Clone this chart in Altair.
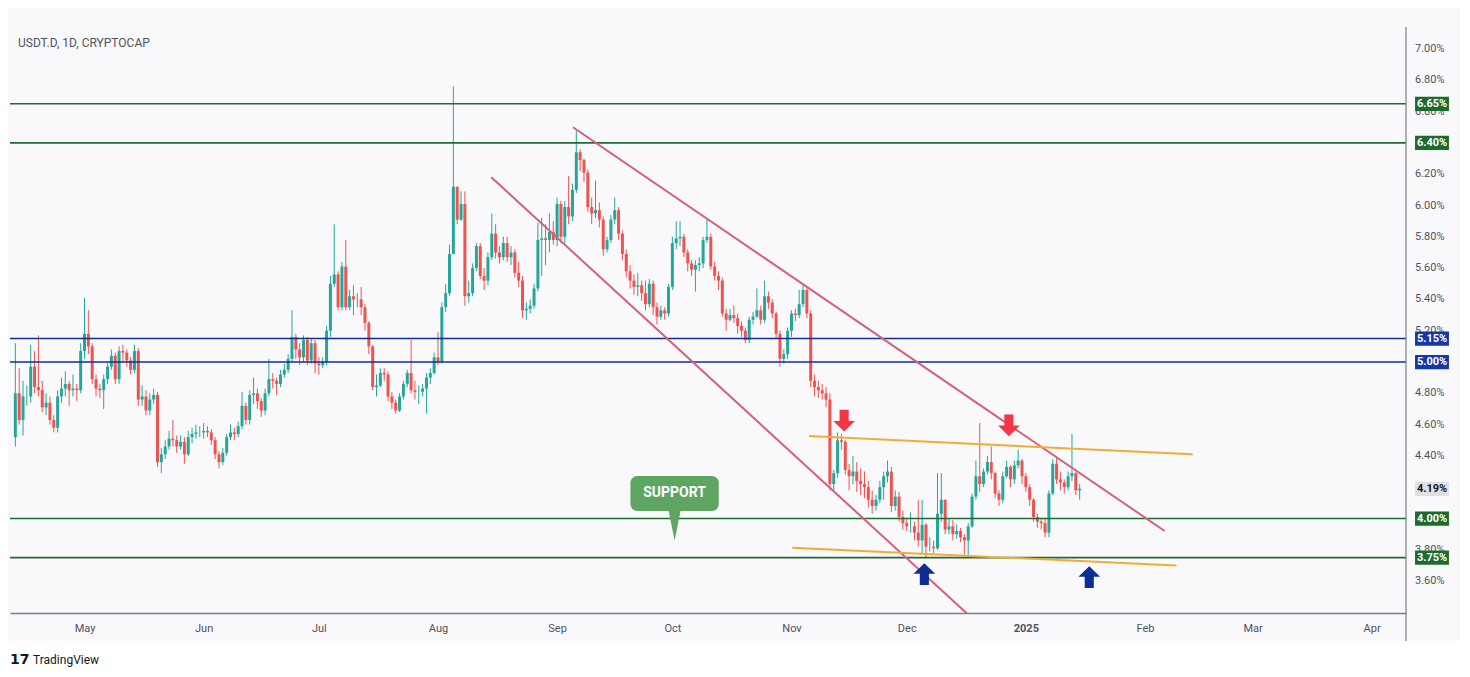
import altair as alt
import pandas as pd

TITLE = "USDT.D, 1D, CRYPTOCAP"
BRAND = "TradingView"
FIRST_DAY = "2024-04-13"
FIRST_OPEN = 4.52

# ---- daily candles (close / high / low) ----
close_apr = [4.80, 4.63, 4.78, 4.78, 4.97, 4.84, 4.82, 4.71, 4.74, 4.63,
             4.58, 4.78, 4.83, 4.86, 4.82, 4.83, 4.82, 5.07]
high_apr = [5.12, 4.96, 4.88, 4.85, 5.11, 5.07, 5.17, 4.88, 4.80, 4.78,
            4.66, 4.82, 4.90, 4.94, 4.88, 4.92, 4.86, 5.12]
low_apr = [4.46, 4.60, 4.53, 4.72, 4.74, 4.80, 4.78, 4.68, 4.66, 4.60,
           4.55, 4.55, 4.74, 4.78, 4.72, 4.78, 4.75, 4.80]

close_may = [5.18, 5.10, 4.89, 4.83, 4.82, 4.89, 4.97, 5.04, 4.89, 5.07,
             5.06, 5.01, 4.95, 5.07, 4.76, 4.78, 4.69, 4.76, 4.79, 4.36,
             4.41, 4.46, 4.51, 4.50, 4.46, 4.49, 4.41, 4.52, 4.54, 4.55,
             4.55]
high_may = [5.41, 5.33, 5.12, 4.92, 4.86, 4.92, 5.00, 5.08, 5.06, 5.10,
            5.11, 5.08, 5.03, 5.11, 5.09, 4.85, 4.82, 4.80, 4.83, 4.81,
            4.45, 4.50, 4.56, 4.63, 4.53, 4.53, 4.52, 4.56, 4.58, 4.60,
            4.59]
low_may = [5.02, 5.05, 4.86, 4.78, 4.77, 4.70, 4.86, 4.95, 4.86, 4.86,
           5.00, 4.97, 4.92, 4.93, 4.72, 4.72, 4.66, 4.66, 4.73, 4.33,
           4.29, 4.38, 4.44, 4.46, 4.42, 4.44, 4.35, 4.40, 4.48, 4.51,
           4.52]

close_jun = [4.56, 4.55, 4.50, 4.41, 4.36, 4.42, 4.52, 4.55, 4.54, 4.59,
             4.72, 4.63, 4.79, 4.80, 4.75, 4.69, 4.80, 4.89, 4.88, 4.86,
             4.92, 4.95, 5.02, 5.16, 5.08, 5.03, 5.14, 5.01, 5.12, 4.99]
high_jun = [4.61, 4.59, 4.57, 4.52, 4.43, 4.45, 4.54, 4.60, 4.58, 4.62,
            4.81, 4.74, 4.82, 4.90, 4.83, 4.77, 4.83, 5.02, 4.93, 4.90,
            4.95, 4.99, 5.05, 5.33, 5.18, 5.12, 5.17, 5.16, 5.15, 5.14]
low_jun = [4.51, 4.52, 4.47, 4.38, 4.32, 4.34, 4.40, 4.50, 4.50, 4.52,
           4.57, 4.60, 4.60, 4.73, 4.70, 4.65, 4.66, 4.78, 4.83, 4.79,
           4.84, 4.90, 4.93, 5.00, 5.02, 4.98, 5.00, 4.98, 4.99, 4.93]

close_jul = [4.98, 5.00, 5.20, 5.50, 5.56, 5.35, 5.61, 5.35, 5.42, 5.40,
             5.40, 5.35, 5.25, 5.10, 4.84, 4.85, 4.93, 4.92, 4.78, 4.74,
             4.69, 4.78, 4.86, 4.93, 4.82, 4.81, 4.81, 4.83, 4.90, 4.93,
             5.03]
high_jul = [5.03, 5.03, 5.23, 5.55, 5.88, 5.58, 5.64, 5.78, 5.46, 5.49,
            5.44, 5.48, 5.37, 5.26, 5.11, 4.92, 4.96, 4.96, 4.94, 4.81,
            4.76, 4.80, 4.88, 4.95, 5.14, 4.88, 4.85, 4.86, 4.93, 4.96,
            5.06]
low_jul = [4.92, 4.96, 4.98, 5.16, 5.48, 5.33, 5.33, 5.33, 5.33, 5.30,
           5.35, 5.30, 5.20, 5.05, 4.82, 4.78, 4.84, 4.88, 4.75, 4.70,
           4.67, 4.68, 4.76, 4.84, 4.80, 4.76, 4.73, 4.78, 4.67, 4.86,
           4.92]

close_aug = [5.00, 5.35, 5.44, 5.69, 6.12, 5.91, 6.01, 5.42, 5.44, 5.60,
             5.74, 5.55, 5.52, 5.67, 5.82, 5.70, 5.67, 5.76, 5.67, 5.70,
             5.57, 5.52, 5.33, 5.34, 5.36, 5.47, 5.78, 5.79, 5.78, 5.83,
             5.78]
high_aug = [5.19, 5.38, 5.50, 5.75, 6.76, 6.12, 6.09, 6.09, 5.52, 5.63,
            5.76, 5.76, 5.60, 5.70, 5.95, 5.88, 5.74, 5.80, 5.80, 5.74,
            5.72, 5.64, 5.55, 5.38, 5.40, 5.50, 5.89, 5.92, 5.88, 5.95,
            5.90]
low_aug = [4.98, 4.99, 5.32, 5.42, 5.69, 5.88, 5.90, 5.36, 5.38, 5.42,
           5.58, 5.53, 5.46, 5.49, 5.65, 5.66, 5.63, 5.65, 5.64, 5.62,
           5.54, 5.48, 5.28, 5.27, 5.31, 5.34, 5.45, 5.55, 5.62, 5.70,
           5.75]

close_sep = [6.01, 5.80, 5.99, 5.93, 6.10, 6.34, 6.29, 6.21, 5.99, 5.95,
             5.97, 5.91, 5.72, 5.78, 5.91, 5.97, 5.82, 5.69, 5.58, 5.52,
             5.48, 5.49, 5.44, 5.37, 5.50, 5.35, 5.29, 5.33, 5.31, 5.48]
high_sep = [6.05, 6.03, 6.03, 6.19, 6.14, 6.48, 6.36, 6.30, 6.23, 6.05,
            6.16, 6.02, 5.93, 5.80, 5.94, 6.05, 5.99, 5.84, 5.72, 5.62,
            5.56, 5.57, 5.52, 5.52, 5.53, 5.52, 5.38, 5.36, 5.35, 5.50]
low_sep = [5.74, 5.76, 5.76, 5.88, 5.90, 6.08, 6.22, 6.15, 5.96, 5.88,
           5.92, 5.86, 5.68, 5.70, 5.76, 5.88, 5.78, 5.65, 5.54, 5.47,
           5.43, 5.42, 5.39, 5.33, 5.35, 5.30, 5.24, 5.27, 5.27, 5.29]

close_oct = [5.76, 5.79, 5.80, 5.70, 5.63, 5.59, 5.62, 5.63, 5.78, 5.80,
             5.61, 5.55, 5.52, 5.31, 5.27, 5.30, 5.28, 5.23, 5.20, 5.14,
             5.27, 5.29, 5.33, 5.27, 5.42, 5.38, 5.31, 5.18, 5.02, 5.05,
             5.20]
high_oct = [5.80, 5.90, 5.90, 5.82, 5.72, 5.65, 5.65, 5.67, 5.80, 5.91,
            5.82, 5.64, 5.58, 5.54, 5.34, 5.34, 5.36, 5.31, 5.26, 5.22,
            5.29, 5.32, 5.47, 5.36, 5.52, 5.45, 5.40, 5.32, 5.20, 5.08,
            5.22]
low_oct = [5.46, 5.72, 5.74, 5.67, 5.58, 5.55, 5.45, 5.58, 5.60, 5.76,
           5.59, 5.52, 5.46, 5.29, 5.20, 5.26, 5.25, 5.18, 5.16, 5.12,
           5.12, 5.24, 5.28, 5.24, 5.25, 5.34, 5.28, 5.15, 4.97, 4.99,
           5.02]

close_nov = [5.31, 5.30, 5.37, 5.46, 5.31, 4.88, 4.84, 4.82, 4.80, 4.76,
             4.22, 4.29, 4.50, 4.49, 4.31, 4.27, 4.30, 4.24, 4.22, 4.20,
             4.12, 4.08, 4.12, 4.20, 4.27, 4.30, 4.08, 4.14, 4.01, 3.97]
high_nov = [5.33, 5.34, 5.46, 5.49, 5.48, 5.33, 4.92, 4.88, 4.86, 4.84,
            4.80, 4.31, 4.55, 4.54, 4.50, 4.35, 4.40, 4.36, 4.32, 4.30,
            4.24, 4.18, 4.15, 4.24, 4.30, 4.37, 4.33, 4.18, 4.17, 4.05]
low_nov = [5.16, 5.26, 5.28, 5.35, 5.28, 4.84, 4.78, 4.77, 4.76, 4.71,
           4.18, 4.17, 4.26, 4.44, 4.28, 4.18, 4.22, 4.17, 4.15, 4.13,
           4.07, 4.03, 4.05, 4.10, 4.12, 4.23, 4.04, 4.05, 3.98, 3.93]

close_dec = [3.95, 3.95, 3.91, 3.86, 3.96, 3.82, 3.82, 3.81, 4.03, 4.12,
             3.93, 3.95, 3.90, 3.92, 3.88, 3.86, 3.95, 4.14, 4.27, 4.22,
             4.30, 4.36, 4.29, 4.16, 4.12, 4.27, 4.33, 4.25, 4.34, 4.37,
             4.27]
high_dec = [4.00, 4.04, 3.98, 4.12, 4.12, 3.97, 3.88, 3.86, 4.29, 4.29,
            4.12, 4.00, 3.99, 3.96, 3.94, 3.90, 3.97, 4.16, 4.37, 4.61,
            4.32, 4.40, 4.46, 4.30, 4.18, 4.30, 4.37, 4.34, 4.37, 4.44,
            4.38]
low_dec = [3.92, 3.91, 3.86, 3.82, 3.78, 3.745, 3.79, 3.78, 3.80, 3.98,
           3.90, 3.90, 3.86, 3.87, 3.85, 3.77, 3.76, 3.94, 4.12, 4.17,
           4.20, 4.28, 4.25, 4.13, 4.08, 4.10, 4.26, 4.20, 4.22, 4.32,
           4.22]

close_jan = [4.20, 4.12, 4.01, 3.98, 3.97, 3.91, 4.16, 4.35, 4.25, 4.23,
             4.20, 4.27, 4.29, 4.18, 4.19]
high_jan = [4.29, 4.22, 4.13, 4.03, 4.00, 4.00, 4.18, 4.38, 4.39, 4.30,
            4.25, 4.30, 4.54, 4.30, 4.22]
low_jan = [4.17, 4.08, 3.98, 3.94, 3.93, 3.88, 3.88, 4.15, 4.22, 4.18,
           4.16, 4.18, 4.24, 4.15, 4.12]

# ---- horizontal levels ----
level_values = [6.65, 6.40, 5.15, 5.00, 4.00, 3.75]
level_labels = ["6.65%", "6.40%", "5.15%", "5.00%", "4.00%", "3.75%"]
level_colors = ["#1f6b34", "#1f6b34", "#0f2f94", "#0f2f94", "#1f6b34", "#1f6b34"]
box_colors = ["#1e6a2c", "#1e6a2c", "#1537a6", "#1537a6", "#1e6a2c", "#1e6a2c"]
LAST_LABEL = "4.19%"

# ---- trend lines (start / end) ----
trend_ids = ["upper", "upper", "lower", "lower", "top", "top", "bottom", "bottom"]
trend_dates = ["2024-09-05T03:00:00Z", "2025-02-06T03:00:00Z",
               "2024-08-14T21:00:00Z", "2024-12-17T06:00:00Z",
               "2024-11-05T14:00:00Z", "2025-02-13T10:00:00Z",
               "2024-11-01T05:00:00Z", "2025-02-09T05:00:00Z"]
trend_values = [6.50, 3.92, 6.18, 3.38, 4.527, 4.41, 3.813, 3.70]
trend_colors = ["#d65f7b"] * 4 + ["#f2ac35"] * 4

# ---- arrows ----
arrow_dates = ["2024-11-14T17:00:00Z", "2024-12-27T14:00:00Z",
               "2024-12-05T14:00:00Z", "2025-01-17T12:00:00Z"]
arrow_values = [4.625, 4.595, 3.645, 3.626]
arrow_kind = ["down", "down", "up", "up"]

# ---- SUPPORT callout ----
support_text = "SUPPORT"
support_x = ["2024-09-20T02:00:00Z", "2024-10-13T02:00:00Z"]
support_y = [4.272, 4.048]
support_mid = "2024-10-01T14:00:00Z"
support_text_y = 4.165
support_tip_y = 3.955

month_ticks = [(2024, m) for m in range(5, 13)] + [(2025, m) for m in range(1, 5)]
y_ticks = [3.6, 3.8, 4.0, 4.2, 4.4, 4.6, 4.8, 5.0, 5.2, 5.4, 5.6, 5.8,
           6.0, 6.2, 6.4, 6.6, 6.8, 7.0]

# ---------------- build tables ----------------
closes = (close_apr + close_may + close_jun + close_jul + close_aug + close_sep
          + close_oct + close_nov + close_dec + close_jan)
highs = (high_apr + high_may + high_jun + high_jul + high_aug + high_sep
         + high_oct + high_nov + high_dec + high_jan)
lows = (low_apr + low_may + low_jun + low_jul + low_aug + low_sep
        + low_oct + low_nov + low_dec + low_jan)
dates = pd.date_range(FIRST_DAY, periods=len(closes), freq="D")
opens = [FIRST_OPEN] + closes[:-1]
candles = pd.DataFrame({
    "date": dates.strftime("%Y-%m-%dT00:00:00Z"),
    "open": opens, "close": closes, "high": highs, "low": lows,
})
candles["high"] = candles[["high", "open", "close"]].max(axis=1)
candles["low"] = candles[["low", "open", "close"]].min(axis=1)
candles["col"] = ["#26a69a" if c >= o else "#ef5350"
                  for o, c in zip(candles["open"], candles["close"])]

levels = pd.DataFrame({"value": level_values, "label": level_labels,
                       "line": level_colors, "box": box_colors,
                       "txt": ["#ffffff"] * len(level_values)})
last_row = pd.DataFrame({"value": [closes[-1]], "label": [LAST_LABEL],
                         "line": ["#000000"], "box": ["#dfe1e6"], "txt": ["#131722"]})
boxes = pd.concat([levels, last_row], ignore_index=True)

ticks_df = pd.DataFrame({"value": y_ticks,
                         "label": [f"{v:.2f}%" for v in y_ticks]})

trends = pd.DataFrame({"id": trend_ids, "date": trend_dates,
                       "value": trend_values, "col": trend_colors})
arrows = pd.DataFrame({"date": arrow_dates, "value": arrow_values, "kind": arrow_kind})

W, H = 1396, 586
xscale = alt.Scale(type="utc",
                   domain=[alt.DateTime(year=2024, month=4, date=12, hours=21, minutes=50, utc=True),
                           alt.DateTime(year=2025, month=4, date=8, hours=15, minutes=20, utc=True)])
yscale = alt.Scale(domain=[3.3962, 7.1406], nice=False, zero=False)

FONT = "Roboto"
PANEL = "#f9f9fb"
AXIS_GRAY = "#7a7d86"
LABEL_GRAY = "#4f525b"
x_axis = alt.Axis(
    values=[alt.DateTime(year=y, month=m, date=1, utc=True) for y, m in month_ticks],
    labelExpr="utcFormat(datum.value, '%m') == '01' ? utcFormat(datum.value, '%Y') : utcFormat(datum.value, '%b')",
    labelFontWeight={"condition": {"test": "utcFormat(datum.value, '%m') == '01'", "value": "bold"}, "value": "normal"},
    ticks=False, grid=False, domainColor=AXIS_GRAY, domainWidth=1.5, labelOverlap=False,
    labelColor=LABEL_GRAY, labelFont=FONT, labelFontSize=11, labelPadding=9, title=None,
)
y_axis = alt.Axis(orient="right", labels=False, ticks=False, grid=False,
                  domain=False, title=None)

X = alt.X("date:T", scale=xscale, axis=x_axis, title=None)
base = alt.Chart(candles)

one = pd.DataFrame({"k": [1]})
# white strip under the chart card (brand area)
foot = alt.Chart(one).mark_rect(color="#ffffff").encode(
    x=alt.value(-4), x2=alt.value(W + 60), y=alt.value(H + 28), y2=alt.value(H + 70))
# price-scale separator line
sep_rule = alt.Chart(one).mark_rule(color=AXIS_GRAY, strokeWidth=1.2).encode(
    x=alt.value(W), y=alt.value(0), y2=alt.value(H + 28))

wicks = base.mark_rule(strokeWidth=1).encode(
    x=X, y=alt.Y("low:Q", scale=yscale, axis=y_axis, title=None), y2="high:Q",
    color=alt.Color("col:N", scale=None))
bodies = base.mark_bar(size=3).encode(
    x=alt.X("date:T"), y="open:Q", y2="close:Q", color=alt.Color("col:N", scale=None))

tick_labels = alt.Chart(ticks_df).mark_text(
    font=FONT, fontSize=11, color=LABEL_GRAY, align="left", baseline="middle").encode(
    x=alt.value(W + 9), y="value:Q", text="label:N")

level_rules = alt.Chart(levels).mark_rule(strokeWidth=1.6).encode(
    y="value:Q", color=alt.Color("line:N", scale=None))

trend_lines = alt.Chart(trends).mark_line(strokeWidth=2, clip=True).encode(
    x="date:T", y="value:Q", detail="id:N", color=alt.Color("col:N", scale=None))

DOWN = "M-0.42,-1 L0.42,-1 L0.42,0.02 L1,0.02 L0,1 L-1,0.02 L-0.42,0.02 Z"
UP = "M-0.42,1 L0.42,1 L0.42,-0.02 L1,-0.02 L0,-1 L-1,-0.02 L-0.42,-0.02 Z"
down_arrows = alt.Chart(arrows).transform_filter("datum.kind == 'down'").mark_point(
    shape=DOWN, size=470, filled=True, opacity=1, color="#f23645", strokeWidth=0).encode(
    x="date:T", y="value:Q")
up_arrows = alt.Chart(arrows).transform_filter("datum.kind == 'up'").mark_point(
    shape=UP, size=470, filled=True, opacity=1, color="#0d2d94", strokeWidth=0).encode(
    x="date:T", y="value:Q")

sup_df = pd.DataFrame({"x": [support_x[0]], "x2": [support_x[1]],
                       "y": [support_y[0]], "y2": [support_y[1]],
                       "mid": [support_mid], "ty": [support_text_y],
                       "tip": [support_tip_y], "text": [support_text]})
sup_box = alt.Chart(sup_df).mark_rect(cornerRadius=7, color="#5ea462").encode(
    x="x:T", x2="x2:T", y="y:Q", y2="y2:Q")
sup_tip = alt.Chart(sup_df).mark_point(
    shape="M-0.4,-1 L0.4,-1 L0,1 Z", size=900, filled=True, opacity=1,
    color="#5ea462", strokeWidth=0).encode(x="mid:T", y="tip:Q")
sup_text = alt.Chart(sup_df).mark_text(
    font=FONT, fontSize=14, fontWeight="bold", color="#ffffff",
    align="center", baseline="middle").encode(x="mid:T", y="ty:Q", text="text:N")

BOXX = 1422
label_boxes = alt.Chart(boxes).mark_point(
    shape="M-1,-0.42 L1,-0.42 L1,0.42 L-1,0.42 Z", size=1150, filled=True,
    opacity=1, strokeWidth=0).encode(
    x=alt.value(BOXX), y="value:Q", color=alt.Color("box:N", scale=None))
label_text = alt.Chart(boxes).mark_text(
    font=FONT, fontSize=11, fontWeight="bold", align="center", baseline="middle").encode(
    x=alt.value(BOXX), y="value:Q", text="label:N", color=alt.Color("txt:N", scale=None))

title_df = pd.DataFrame({"t": [TITLE]})
title_mark = alt.Chart(title_df).mark_text(
    font=FONT, fontSize=12, color="#50535e", align="left", baseline="middle").encode(
    x=alt.value(8), y=alt.value(16), text="t:N")
brand_df = pd.DataFrame({"t": [BRAND], "logo": ["17"]})
logo_mark = alt.Chart(brand_df).mark_text(
    font="DejaVu Sans", fontSize=14, fontWeight="bold", color="#131722",
    align="left", baseline="middle").encode(x=alt.value(0), y=alt.value(633), text="logo:N")
brand_mark = alt.Chart(brand_df).mark_text(
    font=FONT, fontSize=12, color="#131722", align="left", baseline="middle").encode(
    x=alt.value(23), y=alt.value(633), text="t:N")

chart = alt.layer(
    foot, wicks, bodies, tick_labels, level_rules, trend_lines, down_arrows, up_arrows,
    sup_box, sup_tip, sup_text, label_boxes, label_text, sep_rule,
    title_mark, logo_mark, brand_mark,
).properties(
    width=W, height=H,
    autosize=alt.AutoSizeParams(type="none"),
    padding={"left": 2, "top": 19, "right": 54, "bottom": 55},
    background=PANEL,
).configure_view(
    fill=PANEL, stroke=None,
)

chart.save("out.html", embed_options={"renderer": "svg", "actions": False})
